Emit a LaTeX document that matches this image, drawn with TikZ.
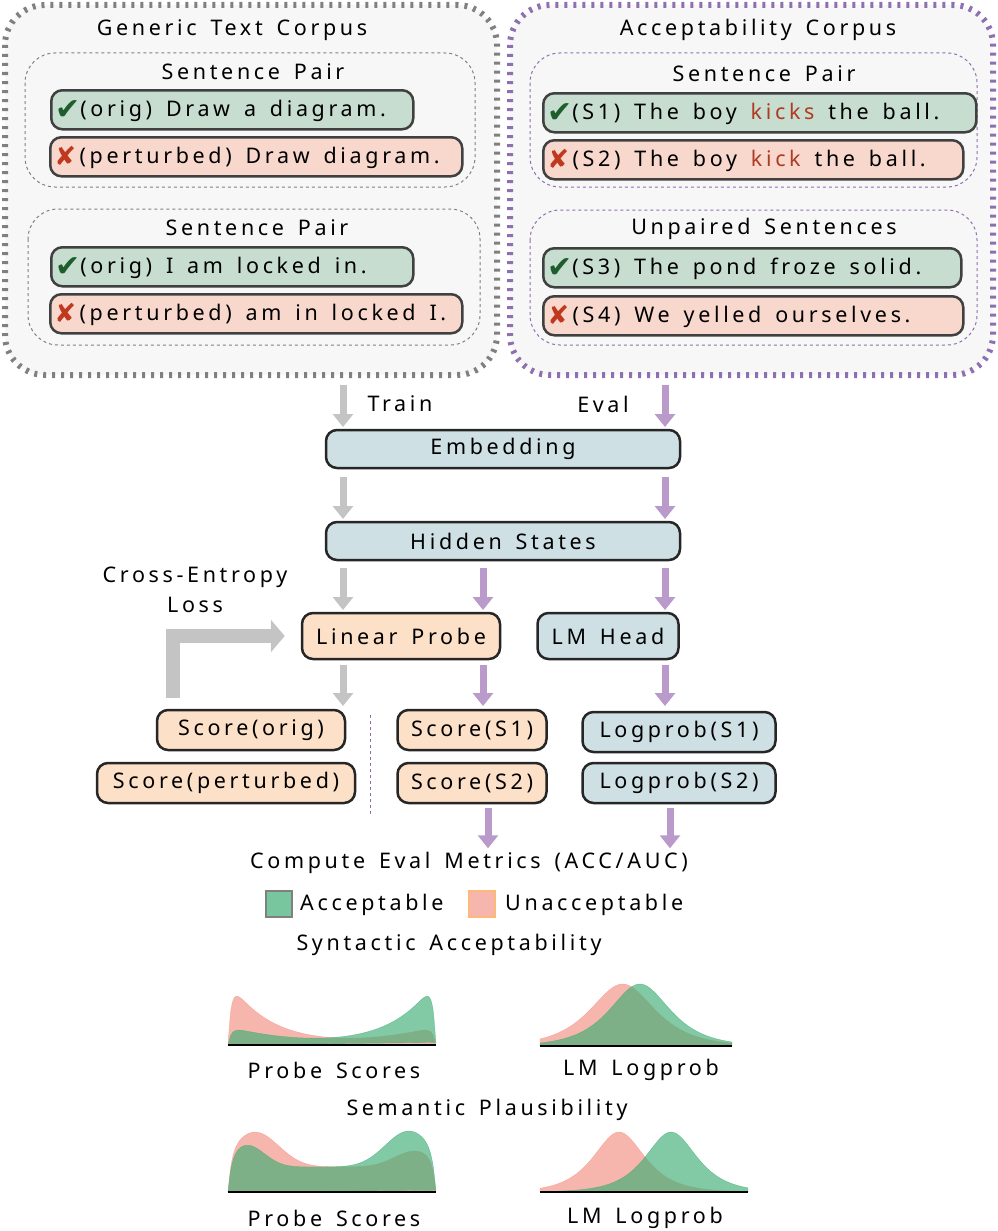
\documentclass[tikz,border=0pt]{standalone}
\usepackage{fontspec}
\setmainfont[LetterSpace=17,WordSpace=1.5]{Noto Sans}
\newfontfamily\symf{DejaVu Sans}
\usetikzlibrary{arrows.meta}
\definecolor{gbox}{HTML}{C6DDD0}
\definecolor{rbox}{HTML}{F8D8CD}
\definecolor{pbox}{HTML}{FDE0C8}
\definecolor{bbox}{HTML}{CFE0E4}
\definecolor{ck}{HTML}{1E5E2C}
\definecolor{cx}{HTML}{C0391F}
\definecolor{kk}{HTML}{B03A22}
\definecolor{pur}{HTML}{B99ACB}
\definecolor{purd}{HTML}{8E6FB0}
\definecolor{gar}{HTML}{C4C4C4}
\definecolor{redf}{HTML}{F4978A}
\definecolor{grnf}{HTML}{3EAE74}
\newcommand{\ok}{\raisebox{-3pt}{\symf\fontsize{30}{30}\selectfont\color{ck}✔}}
\newcommand{\no}{\raisebox{-2pt}{\symf\fontsize{26}{26}\selectfont\color{cx}✘}}
\newcommand{\lbox}[2]{\makebox[#1][l]{#2}}
\begin{document}
\begin{tikzpicture}[x=1pt,y=-1pt,font=\fontsize{21.5}{26}\selectfont,
 sbox/.style={draw=black!75,line width=2.5pt,rounded corners=11pt,anchor=north west,inner sep=4pt,minimum height=39pt,text height=20pt,text depth=6pt},
 gb/.style={sbox,fill=gbox},
 rb/.style={sbox,fill=rbox},
 outer/.style={line width=6pt,dash pattern=on 3pt off 6pt,rounded corners=40pt},
 inner/.style={draw=gray,dashed,line width=1pt,rounded corners=30pt},
 blk/.style={draw=black!85,line width=2.5pt,rounded corners=11pt,minimum height=38pt},
 ga/.style={gar,line width=7pt,-{Triangle[width=20pt,length=13pt]}},
 pa/.style={pur,line width=7pt,-{Triangle[width=20pt,length=13pt]}},
 lbl/.style={inner sep=0pt}]
\useasboundingbox (0,0) rectangle (997,1231);
% outer boxes
\fill[black!3,rounded corners=40pt] (5,5) rectangle (497,375);
\draw[outer,gray] (5,5) rectangle (497,375);
\fill[black!3,rounded corners=40pt] (510,5) rectangle (993,375);
\draw[outer,purd] (510,5) rectangle (993,375);
\node[lbl] (t1) at (232,30) {Generic Text Corpus};
\node[lbl] (t2) at (758,30) {Acceptability Corpus};
% left inner
\draw[inner] (25,53) rectangle (475,187);
\node[lbl] (sp1) at (253,72) {Sentence Pair};
\node[gb] (a1) at (50,89) {\lbox{354pt}{\ok(orig) Draw a diagram.}};
\node[rb] (a2) at (49,136) {\lbox{404pt}{\no\,(perturbed) Draw diagram.}};
\draw[inner] (28,209) rectangle (480,345);
\node[lbl] (sp2) at (257,228) {Sentence Pair};
\node[gb] (a3) at (50,246) {\lbox{354pt}{\ok(orig) I am locked in.}};
\node[rb] (a4) at (49,293) {\lbox{404pt}{\no\,(perturbed) am in locked I.}};
% right inner
\draw[inner,purd] (530,53) rectangle (977,187);
\node[lbl] (sp3) at (764,74) {Sentence Pair};
\node[gb] (b1) at (542,92) {\lbox{425pt}{\ok(S1) The boy {\color{kk}kicks} the ball.}};
\node[rb] (b2) at (542,139) {\lbox{412pt}{\no\,(S2) The boy {\color{kk}kick} the ball.}};
\draw[inner,purd] (530,210) rectangle (977,345);
\node[lbl] (sp4) at (764,229) {Unpaired Sentences};
\node[gb] (b3) at (542,247) {\lbox{410pt}{\ok(S3) The pond froze solid.}};
\node[rb] (b4) at (542,295) {\lbox{412pt}{\no\,(S4) We yelled ourselves.}};
% arrows to embedding
\coordinate (g1s) at (343,385); \coordinate (g1e) at (343,427);
\coordinate (p1s) at (665,385); \coordinate (p1e) at (665,427);
\draw[ga] (g1s) -- (g1e); \draw[pa] (p1s) -- (p1e);
\node[lbl] (train) at (400,404) {Train};
\node[lbl] (eval) at (603,404) {Eval};
\node[blk,fill=bbox,minimum width=354pt] (emb) at (503,449) {Embedding};
\coordinate (g2s) at (343,477); \coordinate (g2e) at (343,519);
\coordinate (p2s) at (665,477); \coordinate (p2e) at (665,519);
\draw[ga] (g2s) -- (g2e); \draw[pa] (p2s) -- (p2e);
\node[blk,fill=bbox,minimum width=354pt] (hid) at (503,541) {Hidden States};
\coordinate (g3s) at (343,568); \coordinate (g3e) at (343,610);
\coordinate (p3s) at (483,568); \coordinate (p3e) at (483,610);
\coordinate (p4s) at (665,568); \coordinate (p4e) at (665,610);
\draw[ga] (g3s) -- (g3e); \draw[pa] (p3s) -- (p3e); \draw[pa] (p4s) -- (p4e);
\node[lbl] (ce1) at (195,577) {Cross-Entropy};
\node[lbl] (ce2) at (195,605) {Loss};
\node[blk,fill=pbox,minimum width=198pt,minimum height=46pt] (lp) at (401,636) {Linear Probe};
\node[blk,fill=bbox,minimum width=141pt,minimum height=46pt] (lm) at (608,636) {LM Head};
\coordinate (g4s) at (343,665); \coordinate (g4e) at (343,706);
\coordinate (p5s) at (483,665); \coordinate (p5e) at (483,706);
\coordinate (p6s) at (665,665); \coordinate (p6e) at (665,706);
\draw[ga] (g4s) -- (g4e); \draw[pa] (p5s) -- (p5e); \draw[pa] (p6s) -- (p6e);
\coordinate (ls) at (173,698);
\draw[gar,line width=14pt,-{Triangle[width=32pt,length=14pt]}] (ls) |- ([xshift=-16pt]lp.west);
\node[blk,fill=pbox,minimum width=188pt,minimum height=40pt] (so) at (251,730) {Score(orig)};
\node[blk,fill=pbox,minimum width=258pt,minimum height=40pt] (sp) at (226,783) {Score(perturbed)};
\coordinate (d1) at (370,715); \coordinate (d2) at (370,815);
\draw[purd,dashed,line width=1pt] (d1) -- (d2);
\node[blk,fill=pbox,minimum width=149pt,minimum height=40pt] (s1) at (472,730) {Score(S1)};
\node[blk,fill=pbox,minimum width=149pt,minimum height=40pt] (s2) at (472,783) {Score(S2)};
\node[blk,fill=bbox,minimum width=193pt,minimum height=40pt] (l1) at (679,732) {Logprob(S1)};
\node[blk,fill=bbox,minimum width=193pt,minimum height=40pt] (l2) at (679,783) {Logprob(S2)};
\draw[pa] (s2.south) ++(16,4) coordinate (q1) -- ++(0,40) coordinate (q2);
\draw[pa] (l2.south) ++(-9,4) coordinate (q3) -- ++(0,40) coordinate (q4);
\node[lbl] (cm) at (469,863) {Compute Eval Metrics (ACC/AUC)};
\node[fill=grnf!70,draw=gray,line width=1.5pt,minimum size=26pt,inner sep=0pt] (lg1) at (279,904) {};
\node[lbl,anchor=west] (acc) at (300,905) {Acceptable};
\node[fill=redf!70,draw=pbox!60!orange,line width=1.5pt,minimum size=26pt,inner sep=0pt] (lg2) at (482,904) {};
\node[lbl,anchor=west] (un) at (505,905) {Unacceptable};
\node[lbl] (syn) at (449,945) {Syntactic Acceptability};
% plot 1 probe
\begin{scope}[shift={(228,1045)}]
\fill[redf,opacity=.7,draw=redf] plot[domain=0:1,samples=80,smooth] ({208*\x},{-(1-exp(-60*\x))*(1-exp(-60*(1-\x)))*(13*(2*\x-1)^2+5+48*exp(-6*\x))}) -- cycle;
\fill[grnf,opacity=.65,draw=grnf] plot[domain=0:1,samples=80,smooth] ({208*\x},{-(1-exp(-60*\x))*(1-exp(-60*(1-\x)))*(13*(2*\x-1)^2+5+48*exp(-6*(1-\x)))}) -- cycle;
\draw[line width=1.5pt] (0,0) -- (208,0);
\end{scope}
\begin{scope}[shift={(540,1046)}]
\fill[redf,opacity=.7,draw=redf] plot[domain=0:1,samples=80,smooth] ({192*\x},{-62/cosh((\x-0.43)/0.15)}) -- (192,0) -- (0,0) -- cycle;
\fill[grnf,opacity=.65,draw=grnf] plot[domain=0:1,samples=80,smooth] ({192*\x},{-62/cosh((\x-0.52)/0.14)}) -- (192,0) -- (0,0) -- cycle;
\draw[line width=1.5pt] (0,0) -- (192,0);
\end{scope}
\node[lbl] (ps1) at (334,1070) {Probe Scores};
\node[lbl] (lm1) at (641,1070) {LM Logprob};
\node[lbl] (sem) at (487,1110) {Semantic Plausibility};
\begin{scope}[shift={(228,1192)}]
\fill[redf,opacity=.7,draw=redf] plot[domain=0:1,samples=80,smooth] ({208*\x},{-(1-exp(-60*\x))*(1-exp(-60*(1-\x)))*(25+35*exp(-((\x-0.13)/0.16)^2)+16*exp(-((\x-0.9)/0.14)^2))}) -- cycle;
\fill[grnf,opacity=.65,draw=grnf] plot[domain=0:1,samples=80,smooth] ({208*\x},{-(1-exp(-60*\x))*(1-exp(-60*(1-\x)))*(25+22*exp(-((\x-0.09)/0.12)^2)+36*exp(-((\x-0.87)/0.16)^2))}) -- cycle;
\draw[line width=1.5pt] (0,0) -- (208,0);
\end{scope}
\begin{scope}[shift={(540,1192)}]
\fill[redf,opacity=.7,draw=redf] plot[domain=0:1,samples=80,smooth] ({208*\x},{-60/cosh((\x-0.38)/0.11)}) -- (208,0) -- (0,0) -- cycle;
\fill[grnf,opacity=.65,draw=grnf] plot[domain=0:1,samples=80,smooth] ({208*\x},{-60/cosh((\x-0.63)/0.11)}) -- (208,0) -- (0,0) -- cycle;
\draw[line width=1.5pt] (0,0) -- (208,0);
\end{scope}
\node[lbl] (ps2) at (334,1218) {Probe Scores};
\node[lbl] (lm2) at (645,1218) {LM Logprob};
\end{tikzpicture}
\end{document}
